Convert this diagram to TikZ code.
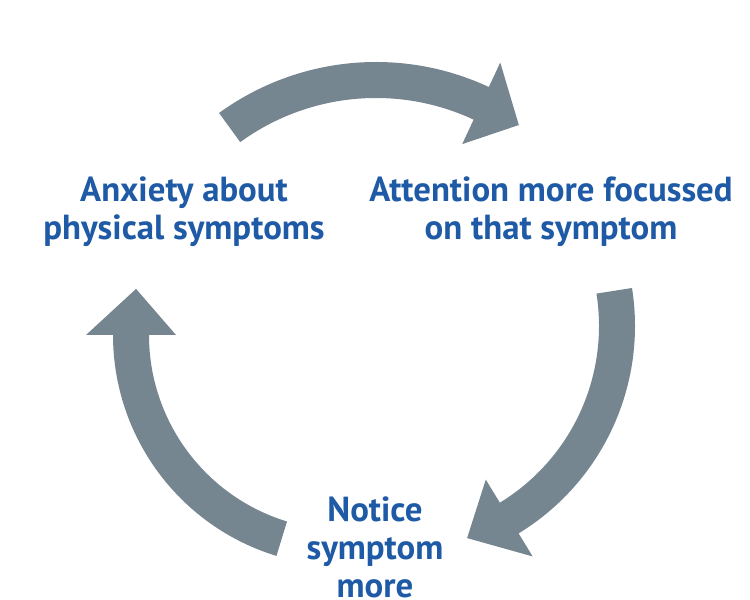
\documentclass[tikz,border=0pt]{standalone}
\usepackage{fontspec}
\setmainfont{PT Sans}
\usetikzlibrary{calc}
\definecolor{cyclegrey}{RGB}{117,134,145}
\definecolor{cycleblue}{RGB}{30,90,165}
% bent arrow: centre x, centre y, radius, tail angle, head angle, tip angle
\newcommand{\cyclearrow}[6]{%
  \fill[cyclegrey] ($(#1,#2)+({#4}:{#3+18})$) arc[start angle=#4, end angle=#5, radius={#3+18}]
    -- ($(#1,#2)+({#5}:{#3+45})$) -- ($(#1,#2)+({#6}:{#3})$) -- ($(#1,#2)+({#5}:{#3-45})$)
    -- ($(#1,#2)+({#5}:{#3-18})$) arc[start angle=#5, end angle=#4, radius={#3-18}] -- cycle;}
\begin{document}
\begin{tikzpicture}[x=0.5pt,y=0.5pt,
    cycletext/.style={text=cycleblue,font=\fontsize{17.4}{19}\selectfont\bfseries,align=center}]
    \useasboundingbox (0,0) rectangle (750,600);
    \cyclearrow{376}{271}{249}{126}{65}{55}
    \cyclearrow{392}{274}{225}{9}{-58.6}{-70.5}
    \cyclearrow{344}{265}{213}{253}{180}{167.5}
    \node[cycletext] (anxiety) at (184,388) {Anxiety about\\physical symptoms};
    \node[cycletext] (attention) at (551,388) {Attention more focussed\\on that symptom};
    \node[cycletext] (notice) at (375,53) {Notice\\symptom\\more};
\end{tikzpicture}
\end{document}
